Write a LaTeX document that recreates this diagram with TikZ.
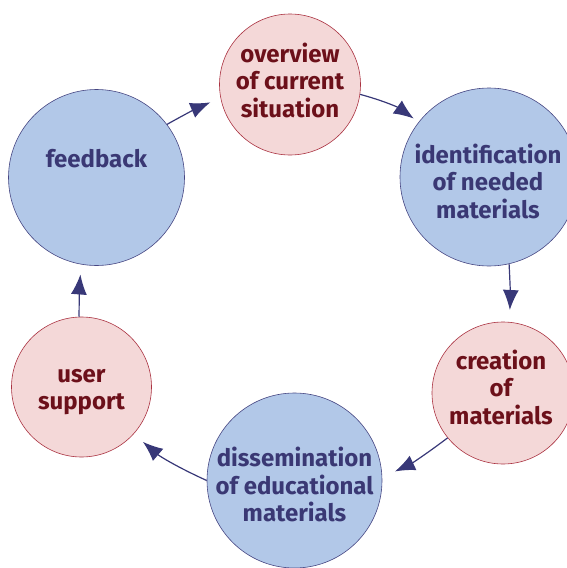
\documentclass[tikz,border=0pt]{standalone}
\usepackage{fontspec}
\setmainfont{Fira Sans}
\usetikzlibrary{arrows.meta}
\definecolor{pinkfill}{RGB}{244,216,216}
\definecolor{pinkedge}{RGB}{170,50,65}
\definecolor{redtext}{RGB}{108,16,26}
\definecolor{bluefill}{RGB}{178,200,232}
\definecolor{blueedge}{RGB}{70,70,130}
\definecolor{bluetext}{RGB}{58,56,116}
\definecolor{arrowc}{RGB}{56,56,120}
\tikzset{
  pinkc/.style={circle, draw=pinkedge, fill=pinkfill, line width=0.6pt, inner sep=0pt},
  bluec/.style={circle, draw=blueedge, fill=bluefill, line width=0.6pt, inner sep=0pt},
  ptext/.style={text=redtext, font=\fontsize{24}{27.5}\selectfont\bfseries, align=center, inner sep=0pt},
  btext/.style={text=bluetext, font=\fontsize{24}{27.5}\selectfont\bfseries, align=center, inner sep=0pt},
  flow/.style={draw=arrowc, line width=1.2pt, -{Latex[length=20pt,width=16pt]}}
}
\begin{document}
\begin{tikzpicture}[x=1pt,y=-1pt]
\useasboundingbox (0,0) rectangle (567,568);
% circles
\node[pinkc, minimum size=141pt] (ov) at (290,84.5) {};
\node[bluec, minimum size=178pt] (id) at (489,177) {};
\node[pinkc, minimum size=142pt] (cr) at (503,393) {};
\node[bluec, minimum size=175pt] (di) at (294.5,480.5) {};
\node[pinkc, minimum size=140pt] (us) at (81.5,387) {};
\node[bluec, minimum size=176pt] (fb) at (96.5,177.5) {};
% texts
\node[ptext] (tov) at (290,80) {overview\\of current\\situation};
\node[btext] (tid) at (488,181) {identification\\of needed\\materials};
\node[ptext] (tcr) at (501,387) {creation\\of\\materials};
\node[btext] (tdi) at (294.5,484.6) {dissemination\\of educational\\materials};
\node[ptext] (tus) at (81.5,392) {user\\support};
\node[btext] (tfb) at (96.5,159) {feedback};
% connectors
\draw[flow, shorten >=6pt] (ov.-8) to[bend left=10] (id.142);
\draw[flow, shorten >=12pt] (id.-77) to[bend left=3] (cr.85);
\draw[flow, shorten >=14pt] (cr.219) to[bend left=6] (di.2);
\draw[flow, shorten >=12pt] (di.180) to[bend left=8] (us.-42);
\draw[flow, shorten >=10pt] (us.92) to[bend left=2] (fb.-100);
\draw[flow, shorten >=11pt] (fb.37) to[bend left=3] (ov.191);
\end{tikzpicture}
\end{document}
